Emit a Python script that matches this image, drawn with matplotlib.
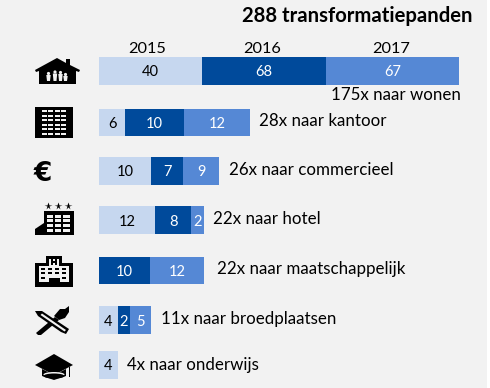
import matplotlib
matplotlib.use("Agg")
import matplotlib.pyplot as plt
from matplotlib.patches import Polygon, Rectangle, Circle, Ellipse

# ---- data ----
title = "288 transformatiepanden"
years = ["2015", "2016", "2017"]
# numbers printed inside the segments (None = no segment)
labels_2015 = [40, 6, 10, 12, None, 4, 4]
labels_2016 = [68, 10, 7, 8, 10, 2, None]
labels_2017 = [67, 12, 9, 2, 12, 5, None]
# drawn segment lengths (the reference is not to one scale)
length_2015 = [103, 26, 52, 56, 0, 19, 19]
length_2016 = [124, 59, 32, 36, 51, 12, 0]
length_2017 = [133, 66, 36, 13, 54, 21, 0]
captions = ["175x naar wonen", "28x naar kantoor", "26x naar commercieel", "22x naar hotel",
            "22x naar maatschappelijk", "11x naar broedplaatsen", "4x naar onderwijs"]

# ---- layout ----
row_y = [71, 122.5, 171, 220, 270.5, 320, 365]
bar_h = 27.5
bar_x0 = 99
caption_x = [331, 259, 229, 213, 217, 161, 127]
caption_y = [95, 121, 170, 219, 269, 319, 365]
LIGHT, DARK, MID = "#c6d7ef", "#004a9b", "#5588d5"
FONT = "Lato"
plt.rcParams["font.family"] = [FONT, "DejaVu Sans"]

fig = plt.figure(figsize=(4.9, 3.88), dpi=100, facecolor="white")
ax = fig.add_axes([0, 0, 1, 1])
ax.set_xlim(0, 490)
ax.set_ylim(388, 0)
ax.axis("off")
ax.add_patch(Rectangle((0, 0), 487, 388, fc="#f2f2f2", ec="none", zorder=0))

left = [bar_x0] * len(row_y)
for lens, labs, col, tc in [(length_2015, labels_2015, LIGHT, "black"),
                            (length_2016, labels_2016, DARK, "white"),
                            (length_2017, labels_2017, MID, "white")]:
    ax.barh(row_y, lens, left=left, height=bar_h, color=col, edgecolor="none", zorder=2)
    for i, (l, lab) in enumerate(zip(lens, labs)):
        if lab is not None and l > 0:
            ax.text(left[i] + l / 2, row_y[i], str(lab), color=tc, fontsize=10.5,
                    ha="center", va="center_baseline", zorder=3)
    left = [a + b for a, b in zip(left, lens)]

ax.text(472, 16, title, fontsize=14.6, fontweight="bold", ha="right", va="center", color="black")
for yr, x in zip(years, [147, 262, 391]):
    ax.text(x, 49, yr, fontsize=11.8, ha="center", va="center", color="black")
for c, x, y in zip(captions, caption_x, caption_y):
    ax.text(x, y, c, fontsize=12.2, ha="left", va="center", color="black")

K = "black"
W = "#f2f2f2"
def poly(pts, c=K, z=4):
    ax.add_patch(Polygon(pts, closed=True, fc=c, ec="none", zorder=z))
def rect(x, y, w, h, c=K, z=4):
    ax.add_patch(Rectangle((x, y), w, h, fc=c, ec="none", zorder=z))

# house with family
poly([(35, 70), (57, 58), (66, 63), (66, 59), (70, 59), (70, 65), (80, 70), (79, 72),
      (76, 71), (76, 84), (39, 84), (39, 71), (36, 72)])
for x, h in [(48.5, 9), (55, 10.5), (60.5, 10), (65.5, 8)]:
    ax.add_patch(Circle((x, 83 - h - 0.5), 1.6, fc=W, ec="none", zorder=5))
    poly([(x - 2.2, 83 - h + 1), (x + 2.2, 83 - h + 1), (x + 1.5, 81), (x - 1.5, 81)], W, 5)

# office block
rect(35, 107, 38, 31)
for r in range(6):
    for c in range(4):
        rect(41.5 + c * 6.6, 110 + r * 4.5, 5, 2, W, 5)

# euro
ax.text(43, 174, "€", fontsize=19, fontweight="bold", ha="center", va="center", color=K,
        family="DejaVu Sans", zorder=4)

# hotel
rect(44, 211, 30, 24)
poly([(35, 235), (35, 229), (44, 223), (46, 223), (46, 235)])
for x in [48, 57.5, 67.5]:
    ax.plot([x], [206], marker="*", ms=5.5, color=K, mec="none", zorder=4)
for r in range(4):
    for x in [46.7, 55, 63.3]:
        rect(x, 214.6 + r * 4.8, 6.4, 3, W, 5)

# hospital
rect(35, 263, 38, 24)
rect(46, 256, 16, 10)
rect(49, 258.5, 10, 7, W, 5)
rect(51, 259, 1.6, 6, K, 6); rect(55.4, 259, 1.6, 6, K, 6); rect(51, 261.3, 6, 1.5, K, 6)
rect(39, 266, 30, 16, W, 5)
for r in range(3):
    for c in range(4):
        if not (r == 2 and c in (1, 2)):
            rect(41 + c * 7, 268 + r * 4.4, 3.6, 2, K, 6)
rect(48.5, 278, 11, 6, K, 6)

# pencil and brush
poly([(35, 311), (42, 311), (69, 329), (66, 334), (61, 332), (38, 316)])
poly([(42, 313.5), (66, 330), (64.5, 331.5), (40.5, 315)], W, 5)
poly([(36, 333), (55, 317), (59, 320), (41, 335), (38, 335)])
poly([(54, 316), (60, 309), (65, 309), (69, 306), (69, 312), (65, 318), (59, 320)])

# mortarboard
poly([(35, 365), (54, 354), (73, 365), (54, 375)])
poly([(42, 369), (54, 375), (66, 369), (66, 376), (54, 380), (42, 376)])
ax.add_patch(Ellipse((54, 374.5), 21, 5, fc=W, ec="none", zorder=5))
ax.add_patch(Ellipse((54, 376), 21, 5, fc=K, ec="none", zorder=6))
rect(68.5, 367, 1, 10)

fig.savefig("out.png", dpi=100, facecolor="white")
